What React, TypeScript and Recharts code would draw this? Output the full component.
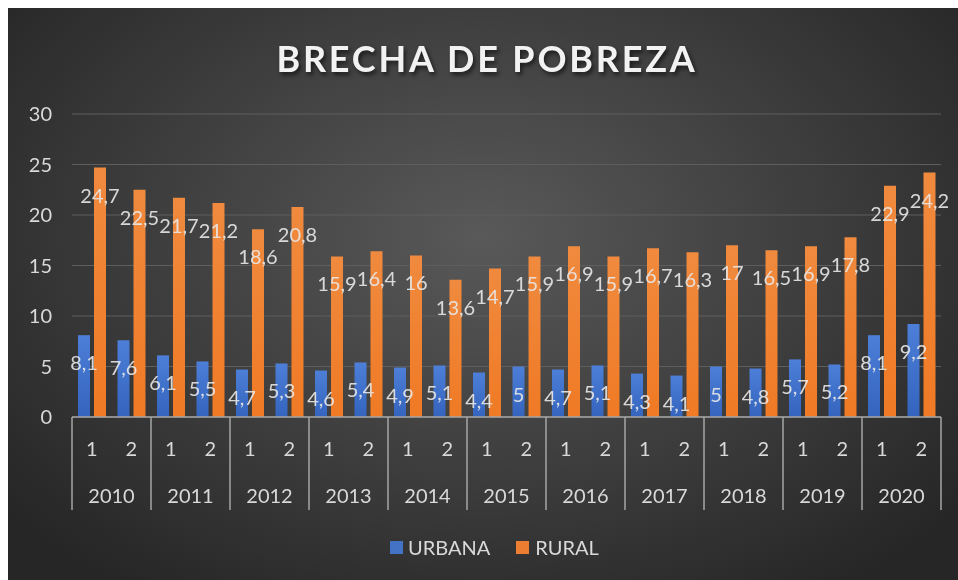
import { Bar, BarChart, CartesianGrid, LabelList, XAxis, YAxis } from "recharts";

// brecha de pobreza por semestre, urbana vs rural
const years = ["2010", "2011", "2012", "2013", "2014", "2015", "2016", "2017", "2018", "2019", "2020"];
const semesters = ["1", "2"];
const urbana = [8.1, 7.6, 6.1, 5.5, 4.7, 5.3, 4.6, 5.4, 4.9, 5.1, 4.4, 5, 4.7, 5.1, 4.3, 4.1, 5, 4.8, 5.7, 5.2, 8.1, 9.2];
const rural = [24.7, 22.5, 21.7, 21.2, 18.6, 20.8, 15.9, 16.4, 16, 13.6, 14.7, 15.9, 16.9, 15.9, 16.7, 16.3, 17, 16.5, 16.9, 17.8, 22.9, 24.2];
const yTicks = [0, 5, 10, 15, 20, 25, 30];

const data = years.flatMap((year, i) =>
  semesters.map((sem, j) => ({
    year,
    sem,
    urbana: urbana[i * 2 + j],
    rural: rural[i * 2 + j],
  }))
);

const W = 950;
const H = 572;
const margin = { top: 106, right: 17, left: 0, bottom: 63 };
const Y_AXIS_W = 64;
const catW = (W - margin.left - margin.right - Y_AXIS_W) / data.length;

const FONT = "Lato, 'Open Sans', sans-serif";
const TEXT = "#d9d9d9";

function CategoryTick(props: any) {
  const { x, y, payload, index } = props;
  const first = index % 2 === 0;
  const last = index === data.length - 1;
  return (
    <g>
      <text x={x} y={y + 31} textAnchor="middle" dominantBaseline="central" fill={TEXT} fontSize={20} fontFamily={FONT}>
        {payload.value}
      </text>
      {first && (
        <text x={x + catW / 2} y={y + 78} textAnchor="middle" dominantBaseline="central" fill={TEXT} fontSize={20} fontFamily={FONT}>
          {data[index].year}
        </text>
      )}
      {first && <line x1={x - catW / 2} x2={x - catW / 2} y1={y} y2={y + 93} stroke="#a6a6a6" strokeWidth={1.5} />}
      {last && <line x1={x + catW / 2} x2={x + catW / 2} y1={y} y2={y + 93} stroke="#a6a6a6" strokeWidth={1.5} />}
    </g>
  );
}

const renderLabel = (props: any) => {
  const { x, y, width, value } = props;
  return (
    <text
      x={x + width / 2}
      y={y + 27}
      textAnchor="middle"
      dominantBaseline="central"
      fill="#e8e8e8"
      fillOpacity={0.9}
      fontSize={20}
      fontFamily={FONT}
    >
      {String(value).replace(".", ",")}
    </text>
  );
};

export default function App() {
  return (
    <div
      style={{
        position: "fixed",
        top: 8,
        left: 8,
        width: W,
        height: H,
        background: "radial-gradient(ellipse 65% 75% at 50% 40%, #595959 0%, #3d3d3d 55%, #262626 100%)",
        fontFamily: FONT,
      }}
    >
      <div
        style={{
          position: "absolute",
          top: 28,
          left: 4,
          width: W,
          textAlign: "center",
          color: "#f2f2f2",
          fontSize: 36,
          fontWeight: 700,
          letterSpacing: 2.8,
          textShadow: "2px 3px 4px rgba(0,0,0,0.6)",
        }}
      >
        BRECHA DE POBREZA
      </div>
      <BarChart width={W} height={H} data={data} margin={margin} barSize={12} barGap={4}>
        <defs>
          <linearGradient id="gBlue" x1="0" y1="0" x2="0" y2="1">
            <stop offset="0%" stopColor="#4d7fd8" />
            <stop offset="100%" stopColor="#3464bd" />
          </linearGradient>
          <linearGradient id="gOrange" x1="0" y1="0" x2="0" y2="1">
            <stop offset="0%" stopColor="#f08a3e" />
            <stop offset="100%" stopColor="#f07a25" />
          </linearGradient>
        </defs>
        <CartesianGrid vertical={false} stroke="#5e5e5e" strokeWidth={1} />
        <XAxis
          dataKey="sem"
          interval={0}
          height={100}
          tickSize={0}
          tickMargin={0}
          tickLine={false}
          axisLine={{ stroke: "#a6a6a6", strokeWidth: 1.5 }}
          tick={<CategoryTick />}
        />
        <YAxis
          domain={[0, 30]}
          ticks={yTicks}
          width={Y_AXIS_W}
          axisLine={false}
          tickLine={false}
          tickSize={0}
          tickMargin={20}
          tick={{ fill: TEXT, fontSize: 20, fontFamily: FONT }}
        />
        <Bar dataKey="urbana" name="URBANA" fill="url(#gBlue)" isAnimationActive={false}>
          <LabelList dataKey="urbana" content={renderLabel} />
        </Bar>
        <Bar dataKey="rural" name="RURAL" fill="url(#gOrange)" isAnimationActive={false}>
          <LabelList dataKey="rural" content={renderLabel} />
        </Bar>
      </BarChart>
      <div
        style={{
          position: "absolute",
          top: 527,
          left: 382,
          display: "flex",
          alignItems: "center",
          color: TEXT,
          fontSize: 20,
          lineHeight: "24px",
        }}
      >
        <span style={{ width: 13, height: 13, background: "#4472c4", marginRight: 5, display: "inline-block" }} />
        <span style={{ marginRight: 26 }}>URBANA</span>
        <span style={{ width: 13, height: 13, background: "#ed7d31", marginRight: 6, display: "inline-block" }} />
        <span>RURAL</span>
      </div>
    </div>
  );
}
